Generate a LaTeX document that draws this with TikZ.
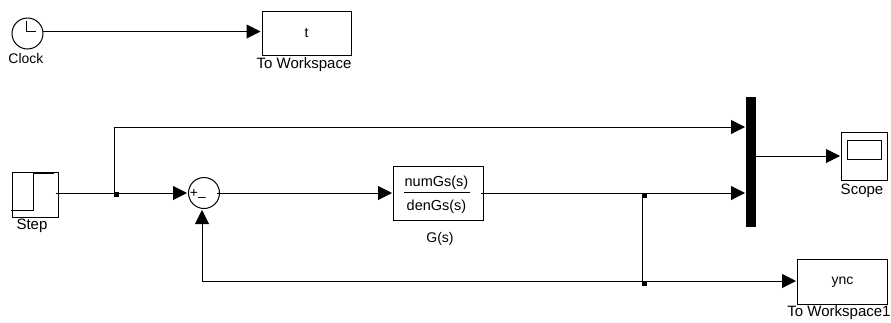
\documentclass[tikz,border=0pt]{standalone}
\usepackage{fontspec}
\setmainfont{Liberation Sans}
\usetikzlibrary{arrows.meta}
\tikzset{
	block/.style={draw,line width=1pt,rectangle,inner sep=0pt,font=\fontsize{14}{15}\selectfont},
	junction/.style={fill=black,rectangle,inner sep=0pt,minimum width=5pt,minimum height=5pt},
	caption/.style={inner sep=0pt,font=\fontsize{15}{16}\selectfont},
	link/.style={line width=1pt,-{Triangle[length=14pt,width=14pt]},shorten >=1pt},
	wire/.style={line width=1pt},
}
\begin{document}
\begin{tikzpicture}[x=1pt,y=-1pt]
		\useasboundingbox (0,0) rectangle (891,322);
		
		% top row: clock and workspace
		\node[draw,line width=1pt,circle,inner sep=0pt,minimum size=31pt] (clock) at (27.5,33.5) {};
		\node[caption,font=\fontsize{14}{16}\selectfont] (clocktext) at (26,58) {Clock};
		\node[block,minimum width=89pt,minimum height=44pt] (toworkt) at (306.5,33) {t};
		\node[caption] (toworkttext) at (304,65) {To Workspace};
		
		% input, sum and transfer function
		\node[block,minimum width=46pt,minimum height=45pt] (stepblock) at (35,194.5) {};
		\node[caption] (steptext) at (32,226) {Step};
		\node[draw,line width=1pt,circle,inner sep=0pt,minimum size=31pt] (sum) at (204,193) {};
		\node[block,minimum width=90pt,minimum height=54pt] (gs) at (438.5,193) {};
		\node[caption,font=\fontsize{14.5}{16}\selectfont] (numgs) at (436.5,183) {numGs(s)};
		\node[caption,font=\fontsize{14.5}{16}\selectfont] (dengs) at (436.5,206.5) {denGs(s)};
		\node[caption,font=\fontsize{14}{16}\selectfont] (gstext) at (440,238.5) {G(s)};
		
		% mux, scope and second workspace
		\node[fill=black,inner sep=0pt,minimum width=10pt,minimum height=130pt] (mux) at (751,162) {};
		\node[block,minimum width=46pt,minimum height=48pt] (scope) at (864.5,156) {};
		\node[draw,line width=1pt,inner sep=0pt,minimum width=34pt,minimum height=19pt] (screen) at (864.5,149.5) {};
		\node[caption] (scopetext) at (862,191) {Scope};
		\node[block,minimum width=90pt,minimum height=45pt] (toworky) at (842.5,282) {ync};
		\node[caption] (toworkytext) at (839,313) {To Workspace1};
		
		% symbols drawn inside the blocks
		\draw[wire] (26,21) -- (26,31.5) -- (36,31.5);
		\draw[wire] (10.5,210.5) -- (33,210.5) -- (33,173.5) -- (54,173.5);
		\draw[wire] (404,192.7) -- (470,192.7);
		\node[inner sep=0pt,font=\fontsize{14}{15}\selectfont] (plus) at (194,193) {+};
		\node[inner sep=0pt,font=\fontsize{14}{15}\selectfont] (minus) at (202,199.5) {–};
		
		% branch points
		\coordinate (brstep) at (114.2,193);
		\coordinate (brgs) at (642.5,193);
		\coordinate (brfb) at (642.5,281);
		\coordinate (muxa) at (746,127);
		\coordinate (muxb) at (746,193);
		\coordinate (sumin) at (202,209);
		\coordinate (scopein) at (scope.west |- 0,156);
		\coordinate (muxout) at (mux.east |- 0,156);
		\node[junction] (dotstep) at (116,194.5) {};
		\node[junction] (dotgs) at (644.5,195) {};
		\node[junction] (dotfb) at (644.5,283) {};
		
		% connectors
		\draw[link,shorten <=-1pt] (clock.east |- 0,31.5) -- (toworkt.west |- 0,31.5);
		\draw[link,shorten <=-3pt] (stepblock.east |- brstep) -- (sum.west);
		\draw[link] (brstep) |- (muxa);
		\draw[link,shorten <=-3pt] (sum.east) -- (gs.west);
		\draw[link,shorten <=-3pt] (gs.east) -- (muxb);
		\draw[wire] (brgs) -- (brfb);
		\draw[link] (brfb) -| (sumin);
		\draw[link] (brfb) -- (toworky.west |- brfb);
		\draw[link] (muxout) -- (scopein);
		
\end{tikzpicture}
\end{document}
